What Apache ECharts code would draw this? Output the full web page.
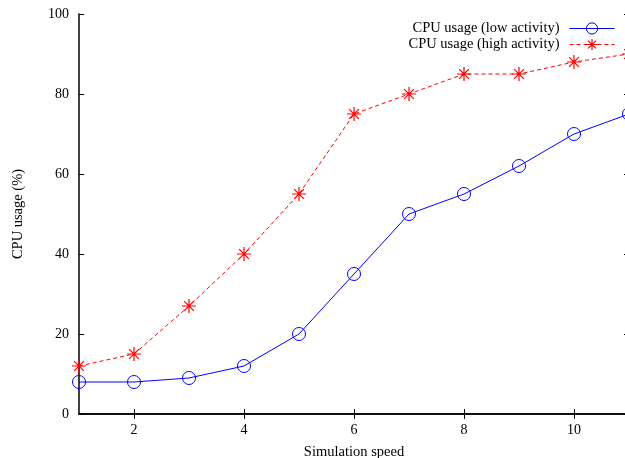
<!DOCTYPE html>
<html><head><meta charset="utf-8">
<script src="https://cdn.jsdelivr.net/npm/echarts@6/dist/echarts.min.js"></script>
<style>html,body{margin:0;padding:0;background:#fff}#c{width:625px;height:458px}</style>
</head><body><div id="c"></div>
<script>
const speeds = [1, 2, 3, 4, 5, 6, 7, 8, 9, 10, 11];
const lowActivity = [8, 8, 9, 12, 20, 35, 50, 55, 62, 70, 75];
const highActivity = [12, 15, 27, 40, 55, 75, 80, 85, 85, 88, 90];
const xTicks = [2, 4, 6, 8, 10];
const yTicks = [0, 20, 40, 60, 80, 100];
const seriesNames = ['CPU usage (low activity)', 'CPU usage (high activity)'];
const xTitle = 'Simulation speed';
const yTitle = 'CPU usage (%)';

const FONT = '"Liberation Serif", "DejaVu Serif", serif';
const BLUE = '#0000ff', RED = '#ff0000';
const star = 'path://M0,5L10,5M5,0L5,10M1.5,1.5L8.5,8.5M1.5,8.5L8.5,1.5';
const pair = a => a.map((v, i) => [speeds[i], v]);

const axisLine = {show: true, lineStyle: {color: '#000', width: 1.5}};
const tick = vals => ({show: true, inside: true, length: 5, customValues: vals,
  lineStyle: {color: '#000', width: 1}});

const chart = echarts.init(document.getElementById('c'));
chart.setOption({
  animation: false,
  textStyle: {fontFamily: FONT},
  grid: {left: 79, width: 550, top: 14, height: 400, outerBoundsMode: 'none'},
  legend: {
    right: 5, top: 16, orient: 'vertical', align: 'right',
    itemWidth: 45, itemHeight: 14, itemGap: 1,
    textStyle: {fontFamily: FONT, fontSize: 14.5, color: '#000', lineHeight: 14,
                padding: [0, 5, 0, 0]},
    data: [
      {name: seriesNames[0],
       lineStyle: {color: BLUE, width: 1, type: 'solid'},
       itemStyle: {color: 'rgba(0,0,0,0)', borderColor: BLUE, borderWidth: 1}},
      {name: seriesNames[1],
       lineStyle: {color: RED, width: 1, type: [4, 3]},
       itemStyle: {color: RED, borderColor: RED, borderWidth: 1.2}}
    ]
  },
  xAxis: [
    {type: 'value', min: 1, max: 11, position: 'bottom',
     name: xTitle, nameLocation: 'middle', nameGap: 31,
     nameTextStyle: {fontFamily: FONT, fontSize: 14.5, color: '#000'},
     axisLine, axisTick: tick(xTicks), splitLine: {show: false},
     axisLabel: {fontFamily: FONT, fontSize: 14, color: '#000', margin: 9,
       customValues: xTicks}},
    {type: 'value', min: 1, max: 11, position: 'top',
     axisLine, axisTick: tick(xTicks), splitLine: {show: false},
     axisLabel: {show: false}}
  ],
  yAxis: [
    {type: 'value', min: 0, max: 100, interval: 20, position: 'left',
     name: yTitle, nameLocation: 'middle', nameGap: 53, nameRotate: 90,
     nameTextStyle: {fontFamily: FONT, fontSize: 14.5, color: '#000'},
     axisLine, axisTick: tick(yTicks), splitLine: {show: false},
     axisLabel: {fontFamily: FONT, fontSize: 14, color: '#000', margin: 10}},
    {type: 'value', min: 0, max: 100, interval: 20, position: 'right',
     axisLine, axisTick: tick(yTicks), splitLine: {show: false},
     axisLabel: {show: false}}
  ],
  series: [
    {name: seriesNames[0], type: 'line', data: pair(lowActivity),
     symbol: 'circle', symbolSize: 13, showAllSymbol: true,
     lineStyle: {color: BLUE, width: 1},
     itemStyle: {color: 'rgba(0,0,0,0)', borderColor: BLUE, borderWidth: 1}},
    {name: seriesNames[1], type: 'line', data: pair(highActivity),
     symbol: star, symbolSize: 14, showAllSymbol: true,
     lineStyle: {color: RED, width: 1, type: [4, 3]},
     itemStyle: {color: RED, borderColor: RED, borderWidth: 1.2}}
  ]
});
</script></body></html>
